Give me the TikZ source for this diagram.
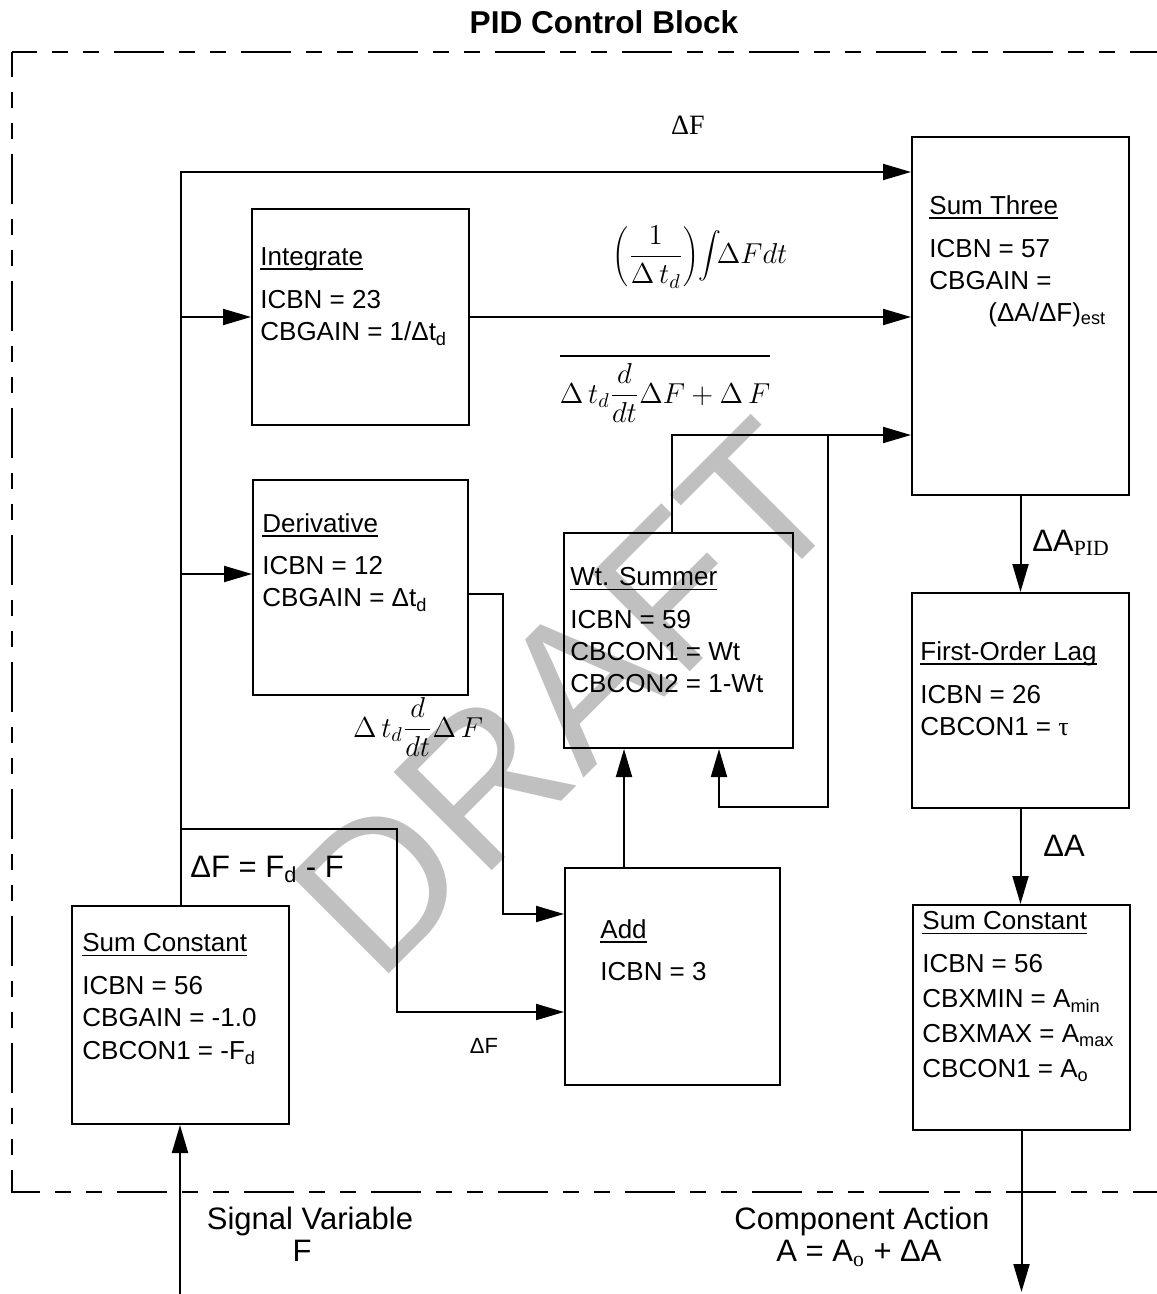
\documentclass[tikz,border=0pt]{standalone}
\usepackage[no-math]{fontspec}
\usepackage{graphicx}
\setmainfont{Liberation Sans}
\newfontfamily\tms{Liberation Serif}
\usetikzlibrary{arrows.meta}
\definecolor{wmgray}{RGB}{192,192,192}
\newcommand\ulx[1]{\setbox0=\hbox{#1}\rlap{\rule[-2.4pt]{\wd0}{0.9pt}}\box0}
\newcommand\ovlx[1]{\vbox{\hrule height 0.9pt\kern 3.3pt\hbox{#1}}}
\begin{document}
\begin{tikzpicture}[x=0.5pt,y=-0.5pt,
  blk/.style={draw,line width=1pt,inner sep=0pt,anchor=north west},
  conn/.style={line width=1pt},
  arr/.style={conn,-{Triangle[length=14pt,width=8pt]}},
  btxt/.style={anchor=north west,inner sep=0pt,align=left,font=\fontsize{13}{16}\selectfont},
  lbl/.style={inner sep=0pt,font=\fontsize{15.5}{16}\selectfont},
  mth/.style={inner sep=0pt,anchor=base,font=\fontsize{14.4}{17}\selectfont},
  bord/.style={line width=1.3pt,dash pattern=on 25pt off 7.5pt on 8pt off 7.5pt on 8pt off 7.5pt,dash phase=12.5pt}
]
\useasboundingbox (0,0) rectangle (1156,1294);
% watermark
\node[rotate=45,text=wmgray,inner sep=0pt,font=\fontsize{101}{101}\selectfont] (draft) at (566,698) {DRAFT};
% border
\draw[bord] (12,52) -- (1160,52);
\draw[bord] (12,52) -- (12,1192) -- (1160,1192);
% title
\node[inner sep=0pt,font=\bfseries\fontsize{15.8}{18}\selectfont] (title) at (604,22) {PID Control Block};
% boxes
\node[blk,minimum width=108.5pt,minimum height=179pt] (s3) at (911,136) {};
\node[blk,minimum width=108.5pt,minimum height=108pt] (int) at (251,208) {};
\node[blk,minimum width=107.5pt,minimum height=107.5pt] (der) at (252,479) {};
\node[blk,minimum width=114.5pt,minimum height=107.5pt] (wts) at (563,532) {};
\node[blk,minimum width=108.5pt,minimum height=107.5pt] (lag) at (911,592) {};
\node[blk,minimum width=108.5pt,minimum height=112.5pt] (scr) at (912,904) {};
\node[blk,minimum width=107.5pt,minimum height=108.5pt] (add) at (564,867) {};
\node[blk,minimum width=108.5pt,minimum height=109pt] (scl) at (71,905) {};
% box texts
\node[btxt] (ts3) at (929,195) {\ulx{Sum Three}\\[5.5pt]ICBN = 57\\CBGAIN =\\\hspace*{29.5pt}(ΔA/ΔF)\textsubscript{est}};
\node[btxt] (tint) at (260,247) {\ulx{Integrate}\\[5.5pt]ICBN = 23\\CBGAIN = 1/Δt\textsubscript{d}};
\node[btxt] (tder) at (262,513) {\ulx{Derivative}\\[5pt]ICBN = 12\\CBGAIN = Δt\textsubscript{d}};
\node[btxt] (twts) at (570,567) {\ulx{Wt. Summer}\\[5.5pt]ICBN = 59\\CBCON1 = Wt\\CBCON2 = 1-Wt};
\node[btxt] (tlag) at (920,641) {\ulx{First-Order Lag}\\[5.5pt]ICBN = 26\\CBCON1 = {\tms τ}};
\node[btxt] (tscr) at (922,911) {\ulx{Sum Constant}\\[5.5pt]ICBN = 56\\[1.5pt]CBXMIN = A\textsubscript{min}\\[1.5pt]CBXMAX = A\textsubscript{max}\\[1.5pt]CBCON1 = A\textsubscript{o}};
\node[btxt] (tadd) at (600,919) {\ulx{Add}\\[5pt]ICBN = 3};
\node[btxt] (tscl) at (82,933) {\ulx{Sum Constant}\\[5.5pt]ICBN = 56\\CBGAIN = -1.0\\[0.5pt]CBCON1 = -F\textsubscript{d}};
% coordinates
\coordinate (ytop) at (0,172);
\coordinate (jd) at (180,574);
\coordinate (j3) at (180,829);
\coordinate (k3) at (397,1012);
\coordinate (dy) at (0,594);
\coordinate (dk) at (503,914);
\coordinate (ax) at (624,0);
\coordinate (wx) at (672,435);
\coordinate (fb) at (828,807);
\coordinate (fx) at (719,0);
\coordinate (in) at (180,1294);
\coordinate (out) at (1020,1292);
% connectors
\draw[arr] (in) -- (in |- scl.south);
\draw[arr] (scl.north) |- (s3.west |- ytop);
\draw[arr] (scl.north |- int.west) -- (int.west);
\draw[arr] (jd) -- (jd -| der.west);
\draw[arr] (j3) -| (k3) -- (k3 -| add.west);
\draw[arr] (int.east) -- (int.east -| s3.west);
\draw[arr] (der.east |- dy) -| (dk) -- (dk -| add.west);
\draw[arr] (add.north -| ax) -- (wts.south -| ax);
\draw[arr] (wts.north -| wx) |- (wx -| s3.west);
\draw[arr] (fb |- wx) -- (fb) -| (wts.south -| fx);
\draw[arr] (s3.south) -- (lag.north);
\draw[arr] (lag.south) -- (lag.south |- scr.north);
\draw[arr] (scr.south) -- (scr.south |- out);
% labels
\node[inner sep=0pt,font=\tms\fontsize{14}{16}\selectfont] (dFtop) at (688,125) {ΔF};
\node[mth] (intf) at (700,264) {$\displaystyle\left(\frac{1}{\Delta\,t_d}\right)\!\scalebox{1.14}{$\displaystyle\int$}\!\Delta F dt$};
\node[mth] (ovf) at (665,403) {\ovlx{$\displaystyle\Delta\,t_d\frac{d}{dt}\Delta F+\Delta\,F$}};
\node[mth] (derf) at (418,737) {$\displaystyle\Delta\,t_d\frac{d}{dt}\Delta\,F$};
\node[lbl,anchor=base west] (dFeq) at (190,877) {ΔF = F\textsubscript{d} - F};
\node[inner sep=0pt,anchor=base,font=\fontsize{11}{13}\selectfont] (dFs) at (484,1053) {ΔF};
\node[lbl,anchor=base west] (dApid) at (1032,551) {ΔA{\tms\textsubscript{PID}}};
\node[lbl,anchor=base west] (dA) at (1043,856) {ΔA};
\node[lbl,anchor=north,align=center] (sig) at (310,1207) {Signal Variable\\\hspace*{-8pt}F};
\node[lbl,anchor=north,align=center] (comp) at (862,1207) {Component Action\\\hspace*{-3pt}A = A{\tms\textsubscript{o}} + ΔA};
\end{tikzpicture}
\end{document}
